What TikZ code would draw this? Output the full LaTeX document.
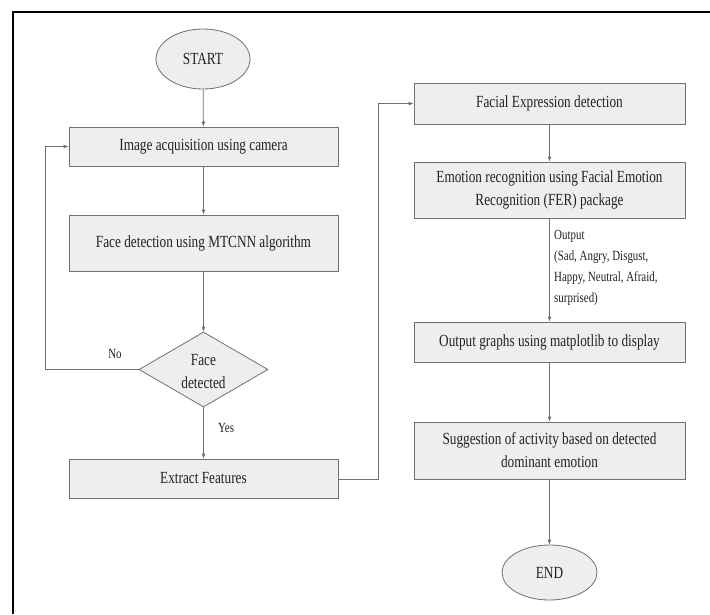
\documentclass[tikz,border=0pt]{standalone}
\usepackage{fontspec}
\setmainfont[FakeStretch=0.78]{Liberation Serif}
\usetikzlibrary{shapes.geometric,arrows.meta}
\definecolor{boxfill}{HTML}{EEEEEE}
\definecolor{edge}{HTML}{707070}
\definecolor{txt}{HTML}{222222}
\begin{document}
\begin{tikzpicture}[x=1pt,y=-1pt,
  every node/.style={text=txt},
  mainfont/.style={font=\fontsize{17}{23}\selectfont},
  procbox/.style={draw=edge,fill=boxfill,line width=0.8pt,rectangle,inner sep=0pt,mainfont,align=center},
  termbox/.style={draw=edge,fill=boxfill,line width=0.8pt,ellipse,inner sep=0pt,mainfont},
  decbox/.style={draw=edge,fill=boxfill,line width=0.8pt,diamond,inner sep=0pt,minimum width=129pt,minimum height=75pt},
  conn/.style={draw=edge,line width=0.8pt,-{Latex[length=5pt,width=4pt]}},
  plainconn/.style={draw=edge,line width=0.8pt},
  lab/.style={font=\fontsize{14}{21}\selectfont}]
\useasboundingbox (0,0) rectangle (710,614);
\fill[white] (0,0) rectangle (710,614);
% frame
\coordinate (fbl) at (13,614);
\coordinate (ftl) at (13,11.5);
\coordinate (ftr) at (710,11.5);
\draw[black,line width=2pt] (fbl) -- (ftl) -- (ftr);
% left column
\node[termbox,minimum width=94pt,minimum height=60pt] (start) at (203,59) {START};
\node[procbox,minimum width=269pt,minimum height=39pt] (img) at (203.5,146.5) {Image acquisition using camera};
\node[procbox,minimum width=269pt,minimum height=56pt] (face) at (203.5,243) {Face detection using MTCNN algorithm};
\node[decbox] (dec) at (203.5,369.5) {};
\node[mainfont,align=center,inner sep=0pt] (dect) at (203.5,372) {Face\\detected};
\node[procbox,minimum width=269pt,minimum height=39pt] (ext) at (203.5,478.5) {Extract Features};
% right column
\node[procbox,minimum width=271pt,minimum height=41pt] (facial) at (549.5,103.5) {Facial Expression detection};
\node[procbox,minimum width=271pt,minimum height=56pt] (emo) at (549.5,190) {Emotion recognition using Facial Emotion\\Recognition (FER) package};
\node[procbox,minimum width=271pt,minimum height=40pt] (outg) at (549.5,342) {Output graphs using matplotlib to display};
\node[procbox,minimum width=271pt,minimum height=57pt] (sugg) at (549.5,450.5) {Suggestion of activity based on detected\\dominant emotion};
\node[termbox,minimum width=95pt,minimum height=55pt] (end) at (549.5,572.5) {END};
% labels
\node[lab] (no) at (115,354) {No};
\node[lab,anchor=west,inner sep=0pt] (yes) at (218,428) {Yes};
\node[lab,anchor=north west,align=left,inner sep=0pt] (outlab) at (554,230) {Output\\(Sad, Angry, Disgust,\\Happy, Neutral, Afraid,\\surprised)};
% connectors
\coordinate (loopc) at (45,369.5);
\coordinate (jumpc) at (378,479);
\draw[conn] (start) -- (img);
\draw[conn] (img) -- (face);
\draw[conn] (face) -- (dec);
\draw[conn] (dec.west) -- (loopc) |- (img.west);
\draw[conn] (dec) -- (ext);
\draw[conn] (ext.east |- jumpc) -- (jumpc) |- (facial.west);
\draw[conn] (facial) -- (emo);
\draw[conn] (emo) -- (outg);
\draw[conn] (outg) -- (sugg);
\draw[conn] (sugg) -- (end);
\end{tikzpicture}
\end{document}
